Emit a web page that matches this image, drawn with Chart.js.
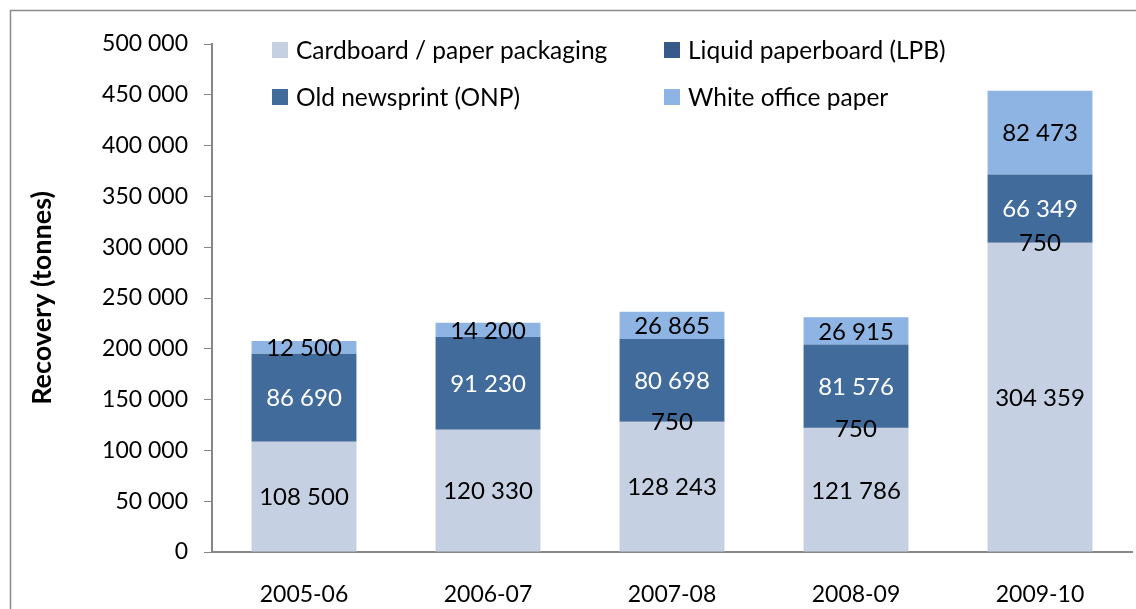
<!DOCTYPE html>
<html>
<head>
<meta charset="utf-8">
<script src="https://cdn.jsdelivr.net/npm/chart.js@4.4.0/dist/chart.umd.min.js"></script>
<style>
  html, body { margin: 0; padding: 0; background: #fff; }
  #wrap { width: 1136px; height: 609px; }
</style>
</head>
<body>
<div id="wrap"><canvas id="chart" width="1136" height="609"></canvas></div>
<script>
// data
const years = ['2005-06', '2006-07', '2007-08', '2008-09', '2009-10'];
const cardboard = [108500, 120330, 128243, 121786, 304359];
const lpb = [null, null, 750, 750, 750];
const onp = [86690, 91230, 80698, 81576, 66349];
const whiteOffice = [12500, 14200, 26865, 26915, 82473];
const yTicks = [0, 50000, 100000, 150000, 200000, 250000, 300000, 350000, 400000, 450000, 500000];

const colors = {
  cardboard: '#c5d0e2',
  lpb: '#365b8a',
  onp: '#416b9b',
  white: '#8eb4e3',
  axis: '#868686'
};

const FONT = 'Lato, "Open Sans", sans-serif';

// 12500 -> "12 500"
function fmt(v) {
  return String(Math.round(v)).replace(/\B(?=(\d{3})+(?!\d))/g, ' ');
}

// white page + outer frame
const frame = {
  id: 'frame',
  beforeDraw(chart) {
    const c = chart.ctx;
    c.save();
    c.fillStyle = '#fff';
    c.fillRect(0, 0, chart.width, chart.height);
    c.strokeStyle = '#8c8c8c';
    c.lineWidth = 1.5;
    c.strokeRect(10.5, 10.5, 1300, 800);
    c.restore();
  }
};

// values in the middle of each segment
const barLabels = {
  id: 'barLabels',
  afterDatasetsDraw(chart) {
    const c = chart.ctx;
    c.save();
    c.font = '24px ' + FONT;
    c.textAlign = 'center';
    c.textBaseline = 'middle';
    chart.data.datasets.forEach((ds, i) => {
      const meta = chart.getDatasetMeta(i);
      meta.data.forEach((bar, j) => {
        const v = ds.data[j];
        if (v == null) return;
        c.fillStyle = ds.labelColor;
        c.fillText(fmt(v), bar.x, (bar.y + bar.base) / 2 + 1);
      });
    });
    c.restore();
  }
};

// two-column legend at the top of the plot
const gridLegend = {
  id: 'gridLegend',
  afterDraw(chart) {
    const c = chart.ctx;
    const cols = [272, 664];
    const rows = [50, 97];
    c.save();
    c.font = '24.5px ' + FONT;
    c.textBaseline = 'middle';
    c.textAlign = 'left';
    chart.data.datasets.forEach((ds, i) => {
      const x = cols[i % 2];
      const y = rows[Math.floor(i / 2)];
      c.fillStyle = ds.backgroundColor;
      c.fillRect(x, y - 8, 16, 16);
      c.fillStyle = '#000';
      c.fillText(ds.label, x + 24, y + 1);
    });
    c.restore();
  }
};

new Chart(document.getElementById('chart'), {
  type: 'bar',
  data: {
    labels: years,
    datasets: [
      { label: 'Cardboard / paper packaging', data: cardboard, backgroundColor: colors.cardboard, labelColor: '#000' },
      { label: 'Liquid paperboard (LPB)', data: lpb, backgroundColor: colors.lpb, labelColor: '#000' },
      { label: 'Old newsprint (ONP)', data: onp, backgroundColor: colors.onp, labelColor: '#fff' },
      { label: 'White office paper', data: whiteOffice, backgroundColor: colors.white, labelColor: '#000' }
    ]
  },
  options: {
    responsive: false,
    animation: false,
    datasets: {
      bar: { barPercentage: 0.57, categoryPercentage: 1, borderWidth: 0 }
    },
    layout: { padding: { top: 44, right: 4, left: 0, bottom: 0 } },
    plugins: {
      legend: { display: false },
      tooltip: { enabled: false }
    },
    scales: {
      x: {
        stacked: true,
        grid: { display: false },
        border: { color: colors.axis, width: 2 },
        ticks: { color: '#000', font: { family: FONT, size: 23 }, padding: 21, maxRotation: 0 },
        afterFit(scale) { scale.height = 57; }
      },
      y: {
        stacked: true,
        min: 0,
        max: 500000,
        afterBuildTicks(scale) { scale.ticks = yTicks.map(v => ({ value: v })); },
        grid: { drawOnChartArea: false, drawTicks: true, tickLength: 8, color: colors.axis },
        border: { color: colors.axis, width: 2 },
        ticks: {
          color: '#000',
          font: { family: FONT, size: 23 },
          padding: 16,
          callback: v => fmt(v)
        },
        title: {
          display: true,
          text: 'Recovery (tonnes)',
          color: '#000',
          font: { family: FONT, size: 27, weight: 'bold' },
          padding: { top: 26, bottom: 0 }
        },
        afterFit(scale) { scale.width = 212; }
      }
    }
  },
  plugins: [frame, barLabels, gridLegend]
});
</script>
</body>
</html>
